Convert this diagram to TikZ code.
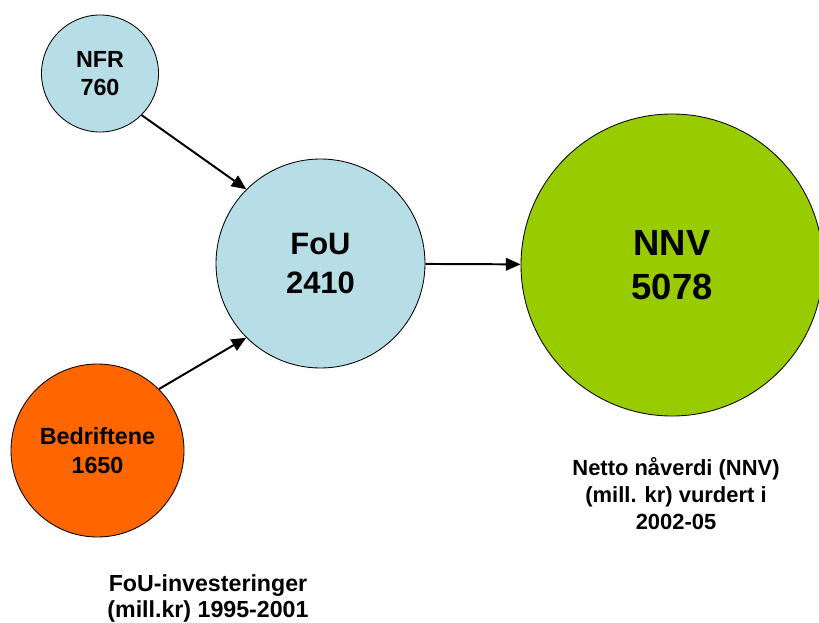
\documentclass[tikz,border=0pt]{standalone}
\usepackage{fontspec}
\setmainfont{Liberation Sans}
\usetikzlibrary{arrows.meta}
\definecolor{foublue}{HTML}{B7DEE6}
\definecolor{nnvgreen}{HTML}{99CC00}
\definecolor{bedorange}{HTML}{FF6600}
\begin{document}
\begin{tikzpicture}[
    ball/.style={circle,draw=black,line width=0.6pt,inner sep=0pt,align=center},
    flow/.style={-{Triangle[length=10.5pt,width=9pt]},line width=1.4pt},
    note/.style={align=center,inner sep=0pt,font=\bfseries\fontsize{15.6}{19.2}\selectfont}]
    \useasboundingbox (0,0) rectangle (20.475,15.55);
    % circles: sources, investment, result
    \node[ball,fill=foublue,minimum size=2.925cm,font=\bfseries\fontsize{16.6}{20.2}\selectfont] (nfr) at (2.5,13.7125) {NFR\\760};
    \node[ball,fill=bedorange,minimum size=4.325cm,font=\bfseries\fontsize{16.6}{20.2}\selectfont] (bed) at (2.4375,4.2875) {Bedriftene\\1650};
    \node[ball,fill=foublue,minimum size=5.225cm,font=\bfseries\fontsize{22}{27.7}\selectfont] (fou) at (8.0125,8.9625) {FoU\\2410};
    \node[ball,fill=nnvgreen,minimum size=7.55cm,font=\bfseries\fontsize{25.9}{31.3}\selectfont] (nnv) at (16.8,8.925) {NNV\\5078};
    \draw[flow] (nfr.-45) -- (fou.135);
    \draw[flow] (bed.45) -- (fou.-135);
    \draw[flow] (fou) -- (nnv);
    % captions
    \node[note] (nnvtext) at (16.9,3.2) {Netto nåverdi (NNV)\\(mill. kr) vurdert i\\2002-05};
    \node[note,font=\bfseries\fontsize{16.5}{18.6}\selectfont] (foutext) at (5.2,0.58) {FoU-investeringer\\(mill.kr) 1995-2001};
\end{tikzpicture}
\end{document}
